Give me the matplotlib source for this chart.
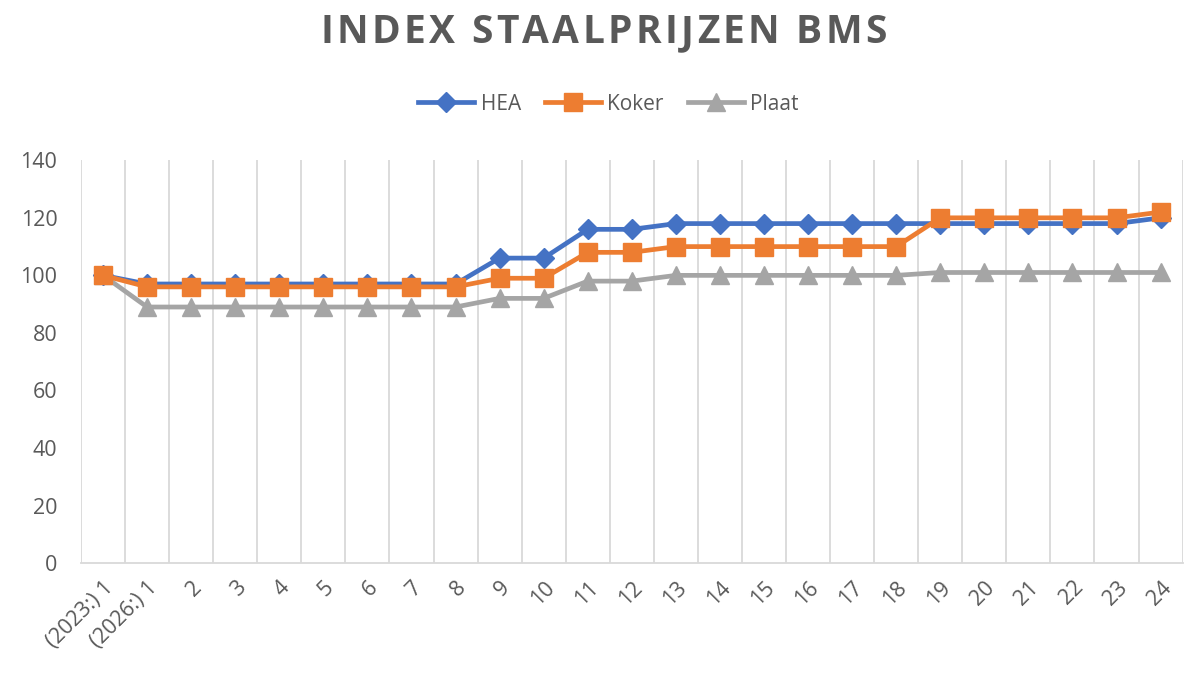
import matplotlib.pyplot as plt
import numpy as np

categories = ["(2023:) 1", "(2026:) 1"] + [str(i) for i in range(2, 25)]
hea = [100, 97, 97, 97, 97, 97, 97, 97, 97, 106, 106, 116, 116,
       118, 118, 118, 118, 118, 118, 118, 118, 118, 118, 118, 120]
koker = [100, 96, 96, 96, 96, 96, 96, 96, 96, 99, 99, 108, 108,
         110, 110, 110, 110, 110, 110, 120, 120, 120, 120, 120, 122]
plaat = [100, 89, 89, 89, 89, 89, 89, 89, 89, 92, 92, 98, 98,
         100, 100, 100, 100, 100, 100, 101, 101, 101, 101, 101, 101]
title = "INDEX STAALPRIJZEN BMS"

text_color = "#595959"
grid_color = "#d9d9d9"

fig = plt.figure(figsize=(12, 6.85), dpi=100)
ax = fig.add_axes([0.0675, 0.178, 0.918, 0.588])

x = np.arange(len(categories))
ax.plot(x, hea, color="#4472C4", lw=3.4, marker="D", ms=10, label="HEA", zorder=3)
ax.plot(x, koker, color="#ED7D31", lw=3.4, marker="s", ms=13, label="Koker", zorder=4)
ax.plot(x, plaat, color="#A5A5A5", lw=3.4, marker="^", ms=13, label="Plaat", zorder=2)

ax.set_xlim(-0.5, len(categories) - 0.5)
ax.set_ylim(0, 140)
ax.set_yticks(range(0, 141, 20))
ax.set_xticks(x)
ax.set_xticklabels(categories, rotation=45, ha="right", rotation_mode="anchor")

# vertical gridlines between categories, like Excel
for b in np.arange(-0.5, len(categories), 1.0):
    ax.axvline(b, color=grid_color, lw=1.3, zorder=0)

for s in ["top", "right", "left"]:
    ax.spines[s].set_visible(False)
ax.spines["bottom"].set_color(grid_color)
ax.spines["bottom"].set_linewidth(1.3)
ax.tick_params(axis="both", length=0, labelsize=15.5, colors=text_color, pad=10)
ax.tick_params(axis="y", pad=17)
for lab in ax.get_xticklabels() + ax.get_yticklabels():
    lab.set_family("Open Sans")

# title with letter spacing: place each character separately
renderer = fig.canvas.get_renderer()
title_props = dict(fontsize=28, fontweight="bold", color=text_color, family="Open Sans")
from matplotlib.font_manager import FontProperties
fp = FontProperties(family="Open Sans", weight="bold", size=28)
tracking = 3.3  # px
widths = [renderer.get_text_width_height_descent(c, fp, ismath=False)[0] for c in title]
total = sum(widths) + tracking * (len(title) - 1)
x0 = 0.503 * fig.bbox.width - total / 2
for c, w in zip(title, widths):
    fig.text(x0 / fig.bbox.width, 0.952, c, ha="left", va="center", **title_props)
    x0 += w + tracking

leg = fig.legend(loc="center", bbox_to_anchor=(0.507, 0.848), ncol=3, frameon=False,
                 handlelength=2.7, columnspacing=1.15, handletextpad=0.3,
                 prop={"family": "Open Sans", "size": 15})
for t in leg.get_texts():
    t.set_color(text_color)

fig.savefig("out.png", dpi=100)
